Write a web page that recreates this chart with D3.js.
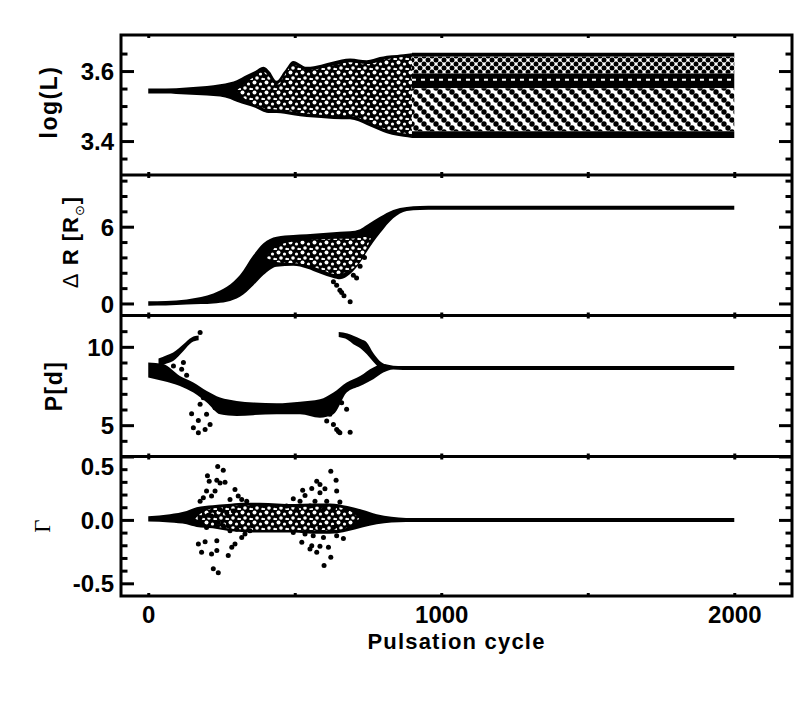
<!DOCTYPE html>
<html lang="en">
<head>
<meta charset="utf-8">
<title>Pulsation cycle panels</title>
<script src="https://d3js.org/d3.v7.min.js"></script>
<style>
body { margin: 0; background: #fff; }
svg text { font-family: "Liberation Sans", Arial, Helvetica, sans-serif; font-weight: bold; fill: #000; }
</style>
</head>
<body>
<svg id="chart" width="802" height="702"></svg>
<script>
// ---- data ----
// x ticks
var cycleTicks = [0, 500, 1000, 1500, 2000];
var cycleLabels = [0, 1000, 2000];

// log(L): envelope of the growing phase
var lumCycle = [0, 60, 130, 200, 245, 280, 302, 336, 365, 393, 415, 438, 465, 495, 541, 590, 632, 689, 746, 790, 814, 850, 871, 900];
var lumUpper = [3.550, 3.550, 3.553, 3.557, 3.562, 3.568, 3.574, 3.589, 3.600, 3.612, 3.598, 3.572, 3.600, 3.629, 3.612, 3.618, 3.627, 3.636, 3.631, 3.640, 3.644, 3.646, 3.648, 3.651];
var lumLower = [3.536, 3.536, 3.533, 3.530, 3.527, 3.520, 3.512, 3.503, 3.495, 3.484, 3.480, 3.480, 3.478, 3.474, 3.469, 3.466, 3.463, 3.462, 3.446, 3.430, 3.422, 3.415, 3.412, 3.409];
// part of it that is full of gaps
var lumInnerCycle = [300, 340, 393, 438, 495, 541, 632, 689, 746, 814, 870, 900];
var lumInnerUpper = [3.543, 3.570, 3.598, 3.562, 3.617, 3.602, 3.616, 3.625, 3.620, 3.634, 3.640, 3.641];
var lumInnerLower = [3.543, 3.515, 3.494, 3.490, 3.484, 3.479, 3.473, 3.472, 3.456, 3.432, 3.422, 3.420];
// saturated phase: horizontal layers
var lumSteadyCycle = [900, 2000];
var lumLayerTop    = [3.652, 3.641, 3.593, 3.551, 3.428];
var lumLayerBottom = [3.641, 3.593, 3.551, 3.428, 3.409];
var lumGapLevel = 3.575;

// Delta R
var drCycle = [0, 60, 131, 180, 222, 268, 313, 359, 393, 438, 495, 541, 586, 632, 654, 689, 723, 746, 791, 836, 882, 927, 984, 2000];
var drUpper = [0.17, 0.19, 0.32, 0.5, 0.78, 1.30, 2.22, 3.78, 4.70, 5.22, 5.35, 5.40, 5.48, 5.56, 5.60, 5.64, 5.80, 6.13, 6.78, 7.31, 7.54, 7.62, 7.64, 7.64];
var drLower = [-0.17, -0.16, -0.08, -0.05, 0.0, 0.13, 0.52, 1.43, 2.22, 2.87, 2.95, 2.74, 2.35, 2.0, 1.9, 2.3, 3.2, 4.04, 5.48, 6.66, 7.23, 7.31, 7.33, 7.33];
var drInnerCycle = [400, 450, 520, 586, 640, 690, 735, 760];
var drInnerUpper = [3.6, 4.6, 4.9, 5.0, 5.05, 5.05, 5.2, 5.1];
var drInnerLower = [3.6, 3.2, 3.1, 2.7, 2.3, 2.6, 3.8, 5.1];
var drDotCycle = [632, 643, 654, 660, 668, 689, 700, 711, 723, 738];
var drDotValue = [1.69, 1.43, 1.04, 0.85, 0.60, 0.13, 2.2, 2.0, 2.9, 3.6];

// P[d]
var pMainCycle = [0, 51, 108, 154, 200, 245, 302, 359, 438, 518, 586, 632, 677, 723, 768, 802, 836, 870, 2000];
var pMainUpper = [9.0, 8.9, 8.14, 7.72, 7.18, 6.76, 6.55, 6.45, 6.40, 6.5, 6.65, 7.08, 7.72, 8.14, 8.68, 8.9, 8.8, 8.78, 8.78];
var pMainLower = [8.04, 7.82, 7.5, 7.08, 6.44, 5.69, 5.58, 5.64, 5.70, 5.69, 5.47, 5.69, 7.08, 7.5, 7.93, 8.36, 8.56, 8.52, 8.52];
var pArcLCycle = [35, 63, 85, 120, 148, 172];
var pArcLUpper = [9.25, 9.46, 9.64, 10.17, 10.6, 10.72];
var pArcLLower = [8.75, 8.93, 9.1, 9.74, 10.28, 10.42];
var pArcRCycle = [650, 680, 700, 725, 746, 768, 790, 812];
var pArcRUpper = [10.95, 10.85, 10.7, 10.5, 10.28, 9.6, 9.1, 8.85];
var pArcRLower = [10.62, 10.45, 10.17, 9.9, 9.53, 9.05, 8.65, 8.55];
var pDotCycle = [148, 154, 171, 177, 171, 194, 199, 211, 228, 245, 188, 205, 216, 131, 114, 86, 120, 177,
                 563, 586, 609, 632, 643, 654, 689, 660, 677, 620, 649];
var pDotValue = [5.73, 4.83, 4.51, 6.33, 5.30, 4.72, 5.69, 5.04, 6.11, 5.90, 6.75, 6.86, 6.43, 8.19, 8.57, 8.78, 9.0, 10.92,
                 5.90, 5.69, 5.26, 5.04, 4.72, 4.51, 4.55, 6.43, 6.01, 5.69, 4.60];

// Gamma
var gCycle = [0, 74, 131, 165, 220, 270, 320, 380, 440, 500, 560, 620, 680, 730, 780, 830, 880, 2000];
var gUpper = [0.028, 0.045, 0.07, 0.10, 0.115, 0.125, 0.135, 0.135, 0.13, 0.125, 0.13, 0.13, 0.11, 0.08, 0.045, 0.025, 0.016, 0.016];
var gLower = [-0.012, -0.02, -0.034, -0.055, -0.065, -0.085, -0.095, -0.10, -0.10, -0.10, -0.11, -0.11, -0.09, -0.06, -0.035, -0.02, -0.016, -0.016];
var gInnerCycle = [160, 200, 250, 320, 380, 440, 500, 560, 620, 680, 720];
var gInnerUpper = [0.01, 0.08, 0.10, 0.115, 0.11, 0.105, 0.10, 0.105, 0.105, 0.08, 0.01];
var gInnerLower = [0.01, -0.04, -0.06, -0.075, -0.08, -0.08, -0.08, -0.085, -0.085, -0.06, 0.01];
var gDotCycle = [237, 256, 202, 208, 234, 245, 262, 228, 199, 216, 296, 307, 177, 188, 279, 319, 336, 205, 216, 177,
                 245, 268, 290, 182, 199, 239, 256, 279, 302, 330, 347, 171, 194, 182, 216, 234, 234, 273, 285, 296,
                 319, 222, 239,
                 623, 641, 575, 586, 603, 558, 527, 535, 586, 643, 495, 518, 569, 609, 654, 472, 507, 552, 598, 632,
                 677, 586, 632, 495, 535, 563, 598, 643, 666, 524, 558, 586, 552, 575, 615, 623, 600];
var gDotValue = [0.422, 0.391, 0.349, 0.305, 0.312, 0.292, 0.297, 0.227, 0.227, 0.188, 0.240, 0.188, 0.148, 0.174, 0.161, 0.161, 0.148, 0.036, 0.031, 0.018,
                 0.083, 0.057, 0.070, -0.034, -0.060, -0.021, -0.047, -0.086, -0.073, -0.112, -0.086, -0.190, -0.172, -0.255, -0.268, -0.242, -0.164, -0.281, -0.216, -0.190,
                 -0.138, -0.385, -0.417,
                 0.383, 0.312, 0.305, 0.279, 0.245, 0.247, 0.234, 0.193, 0.214, 0.227, 0.167, 0.148, 0.148, 0.148, 0.141, 0.109, 0.083, 0.109, 0.083, 0.089,
                 0.083, -0.060, -0.060, -0.099, -0.112, -0.125, -0.138, -0.125, -0.146, -0.177, -0.203, -0.208, -0.229, -0.255, -0.216, -0.294, -0.359];

// y ticks
var lumMajor = [3.4, 3.6], lumMinor = [3.35, 3.45, 3.5, 3.55, 3.65];
var drMajor = [0, 6], drMinor = [1.2, 2.4, 3.6, 4.8, 7.2, 8.4, 9.6];
var pMajor = [5, 10], pMinor = [4, 6, 7, 8, 9, 11];
var gMajor = [-0.5, 0, 0.5], gMinor = [-0.4, -0.3, -0.2, -0.1, 0.1, 0.2, 0.3, 0.4];

// ---- layout ----
var left = 121, right = 792;
var tops = [35, 175, 315.5, 456.5],
    bottoms = [175, 315.5, 456.5, 596];

var svg = d3.select("#chart");

var x = d3.scaleLinear().domain([-93, 2197]).range([left, right]);
var yLum = d3.scaleLinear().domain([3.303, 3.703]).range([bottoms[0], tops[0]]);
var yDr  = d3.scaleLinear().domain([-0.94, 10.04]).range([bottoms[1], tops[1]]);
var yP   = d3.scaleLinear().domain([3, 12]).range([bottoms[2], tops[2]]);
var yG   = d3.scaleLinear().domain([-0.6, 0.5]).range([bottoms[3], tops[3]]);

// textures
var defs = svg.append("defs");

function pattern(id, w, h, bg, fg, spots) {
    var p = defs.append("pattern").attr("id", id)
        .attr("patternUnits", "userSpaceOnUse").attr("width", w).attr("height", h);
    p.append("rect").attr("width", w).attr("height", h).attr("fill", bg);
    spots.forEach(function(s) {
        p.append("circle").attr("cx", s[0]).attr("cy", s[1]).attr("r", s[2]).attr("fill", fg);
    });
}
// black with uneven white gaps
pattern("holes", 12, 10, "#000", "#fff",
    [[2.5, 2.5, 2.0], [8.5, 4, 1.6], [5, 8, 1.8], [10.5, 9, 1.2], [0, 9, 1.1], [12, 9, 1.1]]);
// crossing strands of dots
pattern("cross", 8, 8, "#fff", "#000",
    [[0, 0, 2.5], [8, 0, 2.5], [0, 8, 2.5], [8, 8, 2.5], [4, 4, 2.5]]);
// strands running down to the right
pattern("diag", 12, 12, "#fff", "#000",
    [[0, 0, 2.7], [12, 0, 2.7], [0, 12, 2.7], [12, 12, 2.7], [4, 4, 2.7], [8, 8, 2.7]]);

// ---- helpers ----
function band(g, cycles, upper, lower, y, fill) {
    var rows = cycles.map(function(c, i) { return {c: c, hi: upper[i], lo: lower[i]}; });
    g.append("path")
        .datum(rows)
        .attr("d", d3.area().curve(d3.curveMonotoneX)
            .x(function(d) { return x(d.c); })
            .y0(function(d) { return y(d.lo); })
            .y1(function(d) { return y(d.hi); }))
        .attr("fill", fill);
}

function dots(g, cycles, values, y) {
    g.selectAll(null)
        .data(cycles.map(function(c, i) { return [c, values[i]]; }))
        .join("circle")
        .attr("cx", function(d) { return x(d[0]); })
        .attr("cy", function(d) { return y(d[1]); })
        .attr("r", 2.5)
        .attr("fill", "#000");
}

function fmt1(d) { return d.toFixed(1); }
function fmt0(d) { return String(d); }

function yAxes(i, y, major, minor, format) {
    var g = svg.append("g");
    var l = g.append("g").attr("transform", "translate(" + left + ",0)");
    l.append("g").call(d3.axisLeft(y).tickValues(minor).tickSize(-6.5).tickFormat(""));
    var lm = l.append("g").call(d3.axisLeft(y).tickValues(major).tickSize(-13).tickPadding(7).tickFormat(format));
    lm.selectAll("text")
        .attr("dy", "0.36em")
        .attr("y", function(d) { var gap = y(d) - tops[i]; return gap < 9 ? 9 - gap : 0; });

    var r = g.append("g").attr("transform", "translate(" + right + ",0)");
    r.append("g").call(d3.axisRight(y).tickValues(minor).tickSize(-6.5).tickFormat(""));
    r.append("g").call(d3.axisRight(y).tickValues(major).tickSize(-13).tickFormat(""));

    var b = g.append("g").attr("transform", "translate(0," + bottoms[i] + ")");
    b.call(d3.axisBottom(x).tickValues(cycleTicks).tickSize(-3).tickFormat(""));
    var t = g.append("g").attr("transform", "translate(0," + tops[i] + ")");
    t.call(d3.axisTop(x).tickValues(cycleTicks).tickSize(-3).tickFormat(""));

    g.selectAll(".domain").remove();
    g.selectAll(".tick line").attr("stroke", "#000").attr("stroke-width", 3);
    g.selectAll("text").attr("font-size", null).attr("font-family", null).style("font-size", "24px");
}

// ---- panel 1: log(L) ----
var p1 = svg.append("g");
band(p1, lumCycle, lumUpper, lumLower, yLum, "#000");
band(p1, lumInnerCycle, lumInnerUpper, lumInnerLower, yLum, "url(#holes)");
var layerFill = ["#000", "url(#cross)", "#000", "url(#diag)", "#000"];
lumLayerTop.forEach(function(top, k) {
    band(p1, lumSteadyCycle, [top, top], [lumLayerBottom[k], lumLayerBottom[k]], yLum, layerFill[k]);
});
p1.append("line")
    .attr("x1", x(lumSteadyCycle[0])).attr("x2", x(lumSteadyCycle[1]))
    .attr("y1", yLum(lumGapLevel)).attr("y2", yLum(lumGapLevel))
    .attr("stroke", "#fff").attr("stroke-width", 2).attr("stroke-dasharray", "4 5");

// ---- panel 2: Delta R ----
var p2 = svg.append("g");
band(p2, drCycle, drUpper, drLower, yDr, "#000");
band(p2, drInnerCycle, drInnerUpper, drInnerLower, yDr, "url(#holes)");
dots(p2, drDotCycle, drDotValue, yDr);

// ---- panel 3: P ----
var p3 = svg.append("g");
band(p3, pMainCycle, pMainUpper, pMainLower, yP, "#000");
band(p3, pArcLCycle, pArcLUpper, pArcLLower, yP, "#000");
band(p3, pArcRCycle, pArcRUpper, pArcRLower, yP, "#000");
dots(p3, pDotCycle, pDotValue, yP);

// ---- panel 4: Gamma ----
var p4 = svg.append("g");
band(p4, gCycle, gUpper, gLower, yG, "#000");
band(p4, gInnerCycle, gInnerUpper, gInnerLower, yG, "url(#holes)");
dots(p4, gDotCycle, gDotValue, yG);

// ---- axes and frame ----
yAxes(0, yLum, lumMajor, lumMinor, fmt1);
yAxes(1, yDr, drMajor, drMinor, fmt0);
yAxes(2, yP, pMajor, pMinor, fmt0);
yAxes(3, yG, gMajor, gMinor, fmt1);

svg.append("rect")
    .attr("x", left).attr("y", tops[0])
    .attr("width", right - left).attr("height", bottoms[3] - tops[0])
    .attr("fill", "none").attr("stroke", "#000").attr("stroke-width", 3);
svg.selectAll(null).data(bottoms.slice(0, 3)).join("line")
    .attr("x1", left).attr("x2", right)
    .attr("y1", function(d) { return d; }).attr("y2", function(d) { return d; })
    .attr("stroke", "#000").attr("stroke-width", 3);

// x labels
var xl = svg.append("g").attr("transform", "translate(0," + bottoms[3] + ")")
    .call(d3.axisBottom(x).tickValues(cycleLabels).tickSize(0).tickPadding(10).tickFormat(fmt0));
xl.select(".domain").remove();
xl.selectAll("text").attr("font-size", null).attr("font-family", null).style("font-size", "24px");

svg.append("text")
    .attr("x", (left + right) / 2).attr("y", 649)
    .attr("text-anchor", "middle")
    .style("font-size", "22px").style("letter-spacing", "1.2px")
    .text("Pulsation cycle");

// y titles
function yTitle(cx, cy) {
    return svg.append("text")
        .attr("transform", "translate(" + cx + "," + cy + ") rotate(-90)")
        .attr("text-anchor", "middle")
        .style("font-size", "23px").style("letter-spacing", "1.5px");
}
yTitle(57, 102).text("log(L)");

var dr = yTitle(78, 242).style("font-size", "22px").style("letter-spacing", "1px");
dr.append("tspan").style("font-weight", "normal").text("\u0394");
dr.append("tspan").text(" R [R");
dr.append("tspan").attr("dy", 6).style("font-family", "DejaVu Sans").style("font-weight", "normal")
    .style("font-size", "13px").text("\u2299");
dr.append("tspan").attr("dy", -6).text("]");

yTitle(62, 386).text("P[d]");

yTitle(50, 526)
    .style("font-family", "'Liberation Serif', 'DejaVu Serif', serif")
    .style("font-weight", "normal").style("letter-spacing", "0px")
    .text("\u0393");
</script>
</body>
</html>
